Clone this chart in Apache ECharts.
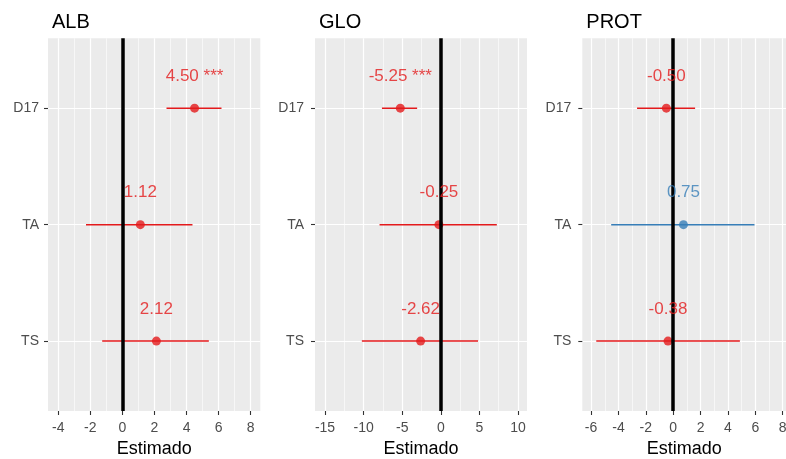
<!DOCTYPE html>
<html>
<head>
<meta charset="utf-8">
<script src="https://cdn.jsdelivr.net/npm/echarts@6/dist/echarts.min.js"></script>
<style>
  html, body { margin: 0; padding: 0; background: #ffffff; }
  #chart { width: 786px; height: 459px; }
</style>
</head>
<body>
<div id="chart"></div>
<script>
// Coefficient plot: one panel per response, estimate with interval per term
const panels = ['ALB', 'GLO', 'PROT'];
const terms = ['D17', 'TA', 'TS'];

const estALB = [4.50, 1.12, 2.12];
const lowALB = [2.75, -2.27, -1.26];
const highALB = [6.18, 4.37, 5.39];
const starsALB = ['***', '', ''];

const estGLO = [-5.25, -0.25, -2.62];
const lowGLO = [-7.63, -7.94, -10.23];
const highGLO = [-3.07, 7.25, 4.82];
const starsGLO = ['***', '', ''];

const estPROT = [-0.50, 0.75, -0.38];
const lowPROT = [-2.64, -4.53, -5.62];
const highPROT = [1.60, 5.94, 4.87];
const starsPROT = ['', '', ''];

// colour group of each term per panel (0 = red, 1 = blue)
const groupALB = [0, 0, 0];
const groupGLO = [0, 0, 0];
const groupPROT = [0, 1, 0];

const xTicksALB = [-4, -2, 0, 2, 4, 6, 8];
const xTicksGLO = [-15, -10, -5, 0, 5, 10];
const xTicksPROT = [-6, -4, -2, 0, 2, 4, 6, 8];

const xTitle = 'Estimado';

const est = [estALB, estGLO, estPROT];
const low = [lowALB, lowGLO, lowPROT];
const high = [highALB, highGLO, highPROT];
const stars = [starsALB, starsGLO, starsPROT];
const groups = [groupALB, groupGLO, groupPROT];
const xTicks = [xTicksALB, xTicksGLO, xTicksPROT];

const palette = ['#E41A1C', '#377EB8'];
const FONT = "'Liberation Sans', Arial, Helvetica, sans-serif";

// panel layout (pixels) and x ranges
const layout = [
  { left: 48, width: 212.3, min: -4.64, max: 8.6, yMargin: 9 },
  { left: 315, width: 212, min: -16.3, max: 11.16, yMargin: 11 },
  { left: 582.3, width: 203.7, min: -6.64, max: 8.24, yMargin: 11 }
];
const TOP = 38.3, HEIGHT = 372.7;
const NUDGE = 0.275;

function minorValues(ticks) {
  const out = [];
  for (let i = 0; i < ticks.length - 1; i++) out.push((ticks[i] + ticks[i + 1]) / 2);
  const step = ticks[1] - ticks[0];
  out.unshift(ticks[0] - step / 2);
  out.push(ticks[ticks.length - 1] + step / 2);
  return out;
}

const grid = [], xAxis = [], yAxis = [], series = [], title = [];

panels.forEach((name, p) => {
  const L = layout[p];
  grid.push({
    left: L.left, top: TOP, width: L.width, height: HEIGHT,
    outerBoundsMode: 'none', containLabel: false,
    show: true, backgroundColor: '#EBEBEB', borderWidth: 0
  });
  title.push({
    text: name, left: L.left - 1, top: 7,
    textStyle: { fontFamily: FONT, fontSize: 20, fontWeight: 'normal', color: '#000000' }
  });
  // main x axis: labels, ticks, major grid lines
  xAxis.push({
    type: 'value', gridIndex: p, min: L.min, max: L.max, position: 'bottom',
    name: xTitle, nameLocation: 'middle', nameGap: 26,
    nameTextStyle: { fontFamily: FONT, fontSize: 18, color: '#000000' },
    axisLine: { show: false, onZero: false },
    axisTick: { show: true, length: 4, customValues: xTicks[p], lineStyle: { color: '#333333', width: 1.1 } },
    axisLabel: { show: true, customValues: xTicks[p], margin: 10, fontFamily: FONT, fontSize: 14, color: '#4D4D4D' },
    splitLine: { show: true, lineStyle: { color: '#FFFFFF', width: 1.2 } },
    z: 1
  });
  // minor x grid lines
  xAxis.push({
    type: 'value', gridIndex: p, min: L.min, max: L.max, position: 'bottom',
    axisLine: { show: false, onZero: false },
    axisTick: { show: false, customValues: minorValues(xTicks[p]) },
    axisLabel: { show: false },
    splitLine: { show: true, lineStyle: { color: '#FFFFFF', width: 0.6 } },
    z: 0
  });
  yAxis.push({
    type: 'value', gridIndex: p, inverse: true, min: 0.4, max: 3.6, position: 'left',
    axisLine: { show: false, onZero: false },
    axisTick: { show: true, length: 4, customValues: [1, 2, 3], lineStyle: { color: '#333333', width: 1.1 } },
    axisLabel: {
      show: true, customValues: [1, 2, 3], margin: L.yMargin,
      fontFamily: FONT, fontSize: 14, color: '#4D4D4D',
      formatter: v => terms[Math.round(v) - 1] || ''
    },
    splitLine: { show: true, lineStyle: { color: '#FFFFFF', width: 1.2 } }
  });

  const xi = p * 2;
  // interval segments
  series.push({
    type: 'custom', xAxisIndex: xi, yAxisIndex: p, z: 3,
    data: terms.map((t, i) => [low[p][i], high[p][i], i + 1, groups[p][i]]),
    encode: { x: [0, 1], y: 2 },
    renderItem: (params, api) => {
      const a = api.coord([api.value(0), api.value(2)]);
      const b = api.coord([api.value(1), api.value(2)]);
      return {
        type: 'line',
        shape: { x1: a[0], y1: a[1], x2: b[0], y2: b[1] },
        style: { stroke: palette[api.value(3)], lineWidth: 1.5 }
      };
    },
    silent: true
  });
  // point estimates, with the zero reference line
  series.push({
    type: 'scatter', xAxisIndex: xi, yAxisIndex: p, z: 4,
    symbol: 'circle', symbolSize: 9,
    data: terms.map((t, i) => ({
      value: [est[p][i], i + 1],
      itemStyle: { color: palette[groups[p][i]] }
    })),
    markLine: {
      silent: true, symbol: 'none', animation: false,
      label: { show: false },
      lineStyle: { color: '#000000', width: 3.5, type: 'solid' },
      data: [{ xAxis: 0 }],
      z: 5
    }
  });
  // value labels above each estimate
  series.push({
    type: 'scatter', xAxisIndex: xi, yAxisIndex: p, z: 6,
    symbolSize: 0, silent: true,
    data: terms.map((t, i) => ({
      value: [est[p][i], i + 1 - NUDGE],
      label: {
        show: true, position: 'inside',
        formatter: est[p][i].toFixed(2) + (stars[p][i] ? ' ' + stars[p][i] : ''),
        fontFamily: FONT, fontSize: 17, color: palette[groups[p][i]]
      }
    }))
  });
});

const chart = echarts.init(document.getElementById('chart'), null, { renderer: 'canvas' });
chart.setOption({
  animation: false,
  backgroundColor: '#FFFFFF',
  title, grid, xAxis, yAxis, series
});
</script>
</body>
</html>
